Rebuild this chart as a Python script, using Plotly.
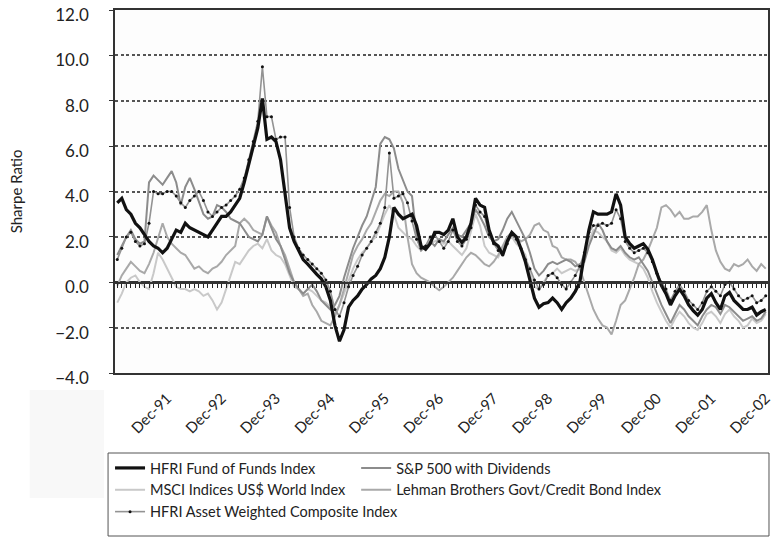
import plotly.graph_objects as go

# Monthly categories, Jan-91 .. Dec-02
years = list(range(1991, 2003))
month_abbr = ["Jan", "Feb", "Mar", "Apr", "May", "Jun",
              "Jul", "Aug", "Sep", "Oct", "Nov", "Dec"]
months = [f"{m}-{str(y)[2:]}" for y in years for m in month_abbr]
dec_labels = [f"Dec-{str(y)[2:]}" for y in years]

# Rolling Sharpe ratios, one row per year
hfri_fof = [
    3.5, 3.7, 3.2, 3.0, 2.6, 2.4, 2.1, 1.8, 1.6, 1.5, 1.3, 1.5,
    1.9, 2.3, 2.2, 2.6, 2.4, 2.3, 2.2, 2.1, 2.0, 2.3, 2.6, 2.9,
    2.9, 3.1, 3.4, 3.7, 4.4, 5.2, 6.0, 6.8, 8.1, 6.3, 6.4, 6.2,
    5.4, 4.0, 2.4, 1.8, 1.4, 1.0, 0.8, 0.55, 0.35, 0.15, -0.2, -0.8,
    -1.9, -2.6, -2.1, -1.1, -0.8, -0.6, -0.3, -0.1, 0.15, 0.3, 0.6, 1.1,
    2.0, 3.3, 3.0, 2.8, 2.9, 3.0, 2.5, 1.6, 1.45, 1.7, 2.2, 2.2,
    2.1, 2.3, 2.8, 2.0, 1.75, 2.0, 2.6, 3.7, 3.4, 3.3, 2.3, 1.75,
    1.6, 1.2, 1.8, 2.2, 2.0, 1.5, 0.9, 0.1, -0.7, -1.1, -0.95, -0.9,
    -0.7, -0.9, -1.2, -0.9, -0.7, -0.4, 0.0, 1.2, 2.3, 3.1, 3.0, 3.0,
    3.0, 3.1, 3.9, 3.4, 2.0, 1.7, 1.5, 1.6, 1.7, 1.45, 1.0, 0.4,
    -0.15, -0.5, -1.0, -0.6, -0.3, -0.6, -1.0, -1.25, -1.45, -1.2, -0.7, -0.5,
    -0.9, -1.2, -0.6, -0.45, -0.8, -1.0, -1.2, -1.2, -1.1, -1.45, -1.3, -1.2,
]

sp500 = [
    1.2, 1.6, 2.0, 2.3, 1.9, 1.7, 1.8, 4.4, 4.7, 4.5, 4.3, 4.6,
    4.9, 4.4, 3.4, 4.2, 4.6, 4.1, 3.5, 3.0, 2.8, 2.9, 3.4, 3.3,
    3.1, 2.8, 2.7, 2.6, 2.3, 2.0, 1.9, 1.8, 2.1, 2.9, 2.4, 1.9,
    1.6, 1.0, 0.4, 0.0, -0.3, -0.5, -0.3, -0.1, -0.4, -0.8, -1.0, -1.2,
    -1.0, -0.6, 0.2, 0.9, 1.5, 2.0, 2.5, 2.9, 3.5, 4.2, 6.1, 6.4,
    6.3, 5.9, 5.0, 4.5, 4.0, 3.8, 2.0, 1.4, 1.6, 1.8, 1.6, 1.9,
    1.8, 2.1, 2.4, 2.1, 2.0, 2.3, 2.6, 3.2, 2.9, 2.5, 2.0, 1.8,
    1.9, 2.3, 2.8, 3.1, 2.7, 2.3, 1.9, 1.3, 0.6, 0.3, 0.5, 0.8,
    0.9, 0.8, 0.9, 1.0, 0.9, 0.7, 0.8, 0.9, 1.6, 2.1, 2.6, 2.3,
    1.8, 1.5, 1.4, 1.6, 1.3, 1.1, 1.0, 1.1, 0.8, 0.5, 0.0, -0.5,
    -1.0, -1.4, -1.8, -1.4, -1.0, -1.2, -1.5, -1.7, -1.9, -1.5, -1.2, -1.0,
    -1.1, -1.4, -1.0, -1.1, -1.3, -1.5, -1.7, -1.6, -1.5, -1.7, -1.6, -1.3,
]

msci_world = [
    -0.9, -0.5, 0.0, 0.2, 0.3, 0.0, -0.2, -0.3, 0.4, 1.3, 1.0, 0.6,
    0.2, -0.2, -0.3, -0.3, -0.4, -0.3, -0.4, -0.6, -0.5, -0.8, -1.2, -0.9,
    -0.3, 0.3, 0.9, 0.8, 1.1, 1.4, 1.6, 1.7, 1.5, 1.9, 1.4, 1.2,
    1.1, 0.8, 0.3, -0.2, -0.3, -0.5, -0.3, -0.4, -0.6, -0.8, -0.9, -1.1,
    -1.4, -1.0, -0.5, 0.1, 0.6, 1.0, 1.3, 1.5, 1.8, 2.0, 2.5, 3.0,
    3.4, 3.0, 2.4, 2.2, 2.0, 1.9, 1.6, 1.4, 1.6, 1.7, 1.8, 1.9,
    1.7, 1.8, 1.6, 1.4, 1.2, 1.5, 2.2, 3.0, 2.5, 1.6, 1.3, 1.2,
    1.1, 1.5, 1.9, 2.0, 1.7, 1.5, 1.2, 0.4, -0.2, -0.3, 0.0, 0.3,
    0.4, 0.6, 0.4, 0.5, 0.6, 0.5, 0.6, 1.1, 1.8, 2.3, 2.2, 2.0,
    1.8, 1.4, 1.3, 1.5, 1.2, 1.0, 0.9, 0.8, 0.6, 0.2, -0.4, -0.9,
    -1.3, -1.7, -2.0, -1.6, -1.3, -1.5, -1.8, -2.0, -2.1, -1.8, -1.4, -1.3,
    -1.5, -1.8, -1.4, -1.2, -1.5, -1.7, -2.0, -1.9, -1.6, -1.8, -1.7, -1.4,
]

lehman_gov_credit = [
    -0.15, 0.3, 0.6, 0.9, 0.7, 0.5, 0.4, 0.8, 1.3, 1.9, 2.6, 2.0,
    1.7, 1.5, 1.3, 1.2, 0.9, 0.6, 0.7, 0.5, 0.4, 0.6, 0.7, 0.9,
    1.2, 1.4, 1.6, 2.6, 2.8, 2.6, 2.3, 2.2, 2.1, 2.9, 2.5, 2.2,
    1.6, 1.2, 0.6, 0.0, -0.3, -0.6, -0.5, -1.0, -1.3, -1.7, -1.8, -1.9,
    -1.5, -1.0, -0.3, 0.4, 1.2, 1.6, 1.9, 2.3, 2.6, 3.1, 3.6, 3.9,
    3.8, 4.0, 4.0, 3.5, 2.0, 0.8, 0.4, 0.2, 0.1, 0.0, -0.2, -0.35,
    -0.2, 0.0, 0.2, 0.5, 0.8, 1.1, 1.3, 1.2, 1.0, 0.8, 0.7, 0.9,
    1.2, 1.6, 2.0, 2.2, 2.0, 1.8, 1.9, 2.1, 2.5, 2.6, 2.3, 2.2,
    1.6, 1.5, 1.1, 1.0, 1.0, 0.9, 0.6, 0.0, -0.6, -1.2, -1.6, -1.9,
    -2.0, -2.3, -1.7, -1.0, -0.8, -0.3, 0.2, 0.8, 1.0, 1.4, 1.9, 2.4,
    3.3, 3.4, 3.2, 2.9, 3.1, 2.8, 2.8, 2.9, 2.9, 3.1, 3.4, 2.3,
    1.4, 0.9, 0.6, 0.5, 0.8, 0.7, 0.8, 1.0, 0.7, 0.5, 0.8, 0.6,
]

hfri_asset_weighted = [
    1.0, 1.5, 2.0, 2.2, 1.8, 1.6, 1.7, 2.6, 4.0, 3.9, 3.9, 4.0,
    4.0, 3.8, 3.5, 3.3, 3.6, 3.8, 4.0, 3.6, 3.1, 2.9, 3.1, 3.3,
    3.4, 3.6, 3.8, 4.1, 4.6, 5.4, 6.2, 7.1, 9.5, 7.3, 7.3, 6.3,
    6.4, 6.4, 3.3, 2.0, 1.5, 1.2, 1.0, 0.8, 0.6, 0.4, 0.1, -0.4,
    -1.2, -1.5, -0.9, -0.2, 0.3, 0.7, 1.2, 1.5, 1.8, 2.2, 2.6, 3.3,
    5.7, 3.7, 3.8, 3.9, 3.5, 2.7, 1.9, 1.5, 1.6, 2.0, 2.1, 1.8,
    1.5, 1.8, 2.3, 1.8, 1.6, 1.9, 2.4, 3.4, 3.1, 2.9, 2.1, 1.7,
    1.4, 1.2, 1.7, 2.1, 1.9, 1.5, 1.0, 0.6, 0.1, -0.3, -0.1, 0.3,
    0.4, 0.2, -0.1, -0.3, 0.0, 0.3, 0.7, 1.3, 2.2, 2.5, 2.5, 2.6,
    2.5, 2.6, 3.2, 2.8, 1.8, 1.5, 1.3, 1.4, 1.5, 1.3, 0.9, 0.4,
    0.0, -0.3, -0.8, -0.4, -0.1, -0.4, -0.8, -1.0, -1.2, -0.9, -0.4, -0.2,
    -0.4, -0.6, -0.1, 0.0, -0.3, -0.6, -0.8, -0.7, -0.6, -0.9, -0.8, -0.6,
]

FONT = "Lato, 'Open Sans', sans-serif"

# (name, values, color, width, legend, rank); drawn back to front
series = [
    ("MSCI Indices US$ World Index", msci_world, "#c9c9c9", 2.0, "legend", 2),
    ("Lehman Brothers Govt/Credit Bond Index", lehman_gov_credit, "#a9a9a9", 2.0, "legend2", 2),
    ("S&P 500 with Dividends", sp500, "#8c8c8c", 2.0, "legend2", 1),
]

fig = go.Figure()
for name, vals, color, width, leg, rank in series:
    fig.add_trace(go.Scatter(
        x=months, y=vals, name=name, mode="lines",
        line=dict(color=color, width=width), legend=leg, legendrank=rank,
    ))

fig.add_trace(go.Scatter(
    x=months, y=hfri_asset_weighted, name="HFRI Asset Weighted Composite Index",
    mode="lines+markers", line=dict(color="#939393", width=1.6),
    marker=dict(color="#111111", size=3), legend="legend", legendrank=3,
))
fig.add_trace(go.Scatter(
    x=months, y=hfri_fof, name="HFRI Fund of Funds Index", mode="lines",
    line=dict(color="#111111", width=3.2), legend="legend", legendrank=1,
))

W, H = 777, 537
L, R, T, B = 115, 4, 10, 164
pw, ph = W - L - R, H - T - B
Y_MIN, Y_MAX = -4, 12


def px_x(px):
    return (px - L) / pw


def px_y(py):
    return (H - B - py) / ph


# Month tick comb hanging from the zero line: a hidden y axis whose
# domain starts at the data value 0, with an x axis anchored to it.
zero_frac = (0 - Y_MIN) / (Y_MAX - Y_MIN)
fig.add_trace(go.Scatter(
    x=months, y=hfri_fof, xaxis="x2", yaxis="y2", mode="lines",
    line=dict(color="rgba(0,0,0,0)"), showlegend=False, hoverinfo="skip",
))

legend_style = dict(
    orientation="v", xanchor="left", yanchor="top",
    font=dict(size=14.5, family=FONT, color="#222222"),
    itemwidth=30, bgcolor="rgba(0,0,0,0)", borderwidth=0,
    traceorder="normal", tracegroupgap=0,
)

fig.update_layout(
    width=W, height=H,
    margin=dict(l=L, r=R, t=T, b=B),
    paper_bgcolor="white", plot_bgcolor="rgba(0,0,0,0)",
    font=dict(family=FONT, color="#222222"),
    showlegend=True,
    legend=dict(x=px_x(110), y=px_y(452), **legend_style),
    legend2=dict(x=px_x(358), y=px_y(452), **legend_style),
    xaxis=dict(
        type="category", categoryorder="array", categoryarray=months,
        range=[-0.5, len(months) - 0.5],
        tickmode="array", tickvals=dec_labels, ticktext=dec_labels,
        tickangle=-45, tickfont=dict(size=15, family=FONT, color="#222222"),
        ticks="", ticklabelstandoff=9, showgrid=False, zeroline=False,
        showline=True, mirror=True, linecolor="#333333", linewidth=1.5,
    ),
    xaxis2=dict(
        type="category", categoryorder="array", categoryarray=months,
        range=[-0.5, len(months) - 0.5], anchor="y2", side="bottom",
        tickmode="array", tickvals=months, ticks="outside", ticklen=4,
        tickcolor="#222222", tickwidth=1.2, showticklabels=False,
        showgrid=False, zeroline=False, showline=True,
        linecolor="#333333", linewidth=1.6,
    ),
    yaxis=dict(
        range=[Y_MIN, Y_MAX], tickmode="linear", tick0=Y_MIN, dtick=2,
        tickformat=".1f",
        tickfont=dict(size=17, family=FONT, color="#222222"),
        ticks="outside", ticklen=4, tickcolor="#333333",
        ticklabelstandoff=17, ticklabelshift=5,
        showgrid=True, gridcolor="#555555", gridwidth=1.6, griddash="3px,2.5px",
        zeroline=True, zerolinecolor="#333333", zerolinewidth=1.6,
        showline=True, mirror=True, linecolor="#333333", linewidth=1.5,
    ),
    yaxis2=dict(
        domain=[zero_frac, 1], anchor="x2", visible=False,
        showgrid=False, zeroline=False, fixedrange=True,
    ),
    shapes=[
        # plot-area fill, kept under the gridlines
        dict(type="rect", xref="paper", yref="paper", x0=0, x1=1, y0=0, y1=1,
             fillcolor="#fdfdfd", line=dict(width=0), layer="below"),
        dict(type="rect", xref="paper", yref="paper",
             x0=px_x(29), x1=px_x(104), y0=px_y(498), y1=px_y(390),
             fillcolor="#f8f8f8", line=dict(width=0), layer="below"),
        dict(type="rect", xref="paper", yref="paper",
             x0=px_x(108), x1=px_x(774), y0=px_y(536), y1=px_y(453),
             fillcolor="rgba(0,0,0,0)", line=dict(color="#555555", width=1)),
    ],
    annotations=[
        dict(text="Sharpe Ratio", xref="paper", yref="paper",
             x=px_x(15), y=0.5, xanchor="center", yanchor="middle",
             textangle=-90, showarrow=False,
             font=dict(size=15, family=FONT, color="#222222")),
    ],
)

fig.write_html("out.html")
